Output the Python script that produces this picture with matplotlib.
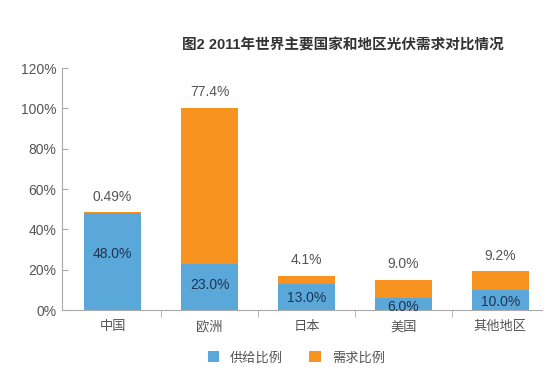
import matplotlib
matplotlib.use('Agg')
import matplotlib.pyplot as plt
import numpy as np

plt.rcParams['font.family'] = ['Liberation Sans', 'Noto Sans CJK SC', 'DejaVu Sans']

regions = ['中国', '欧洲', '日本', '美国', '其他地区']
supply = [48.0, 23.0, 13.0, 6.0, 10.0]
demand = [0.49, 77.4, 4.1, 9.0, 9.2]
supply_labels = ['48.0%', '23.0%', '13.0%', '6.0%', '10.0%']
demand_labels = ['0.49%', '77.4%', '4.1%', '9.0%', '9.2%']

blue = '#5aa7d9'
orange = '#f7931e'
grey = '#555555'

fig = plt.figure(figsize=(5.6, 3.89), dpi=100)
ax = fig.add_axes([0.111, 0.203, 0.857, 0.622])

x = np.arange(len(regions))
w = 0.58
ax.bar(x, supply, w, color=blue, label='供给比例')
ax.bar(x, demand, w, bottom=supply, color=orange, label='需求比例')

for i in range(len(regions)):
    ax.text(x[i], supply[i] * 0.62 - 2, supply_labels[i], ha='center', va='center',
            fontsize=10, color='#1f3550')
    ax.annotate(demand_labels[i], (x[i], supply[i] + demand[i]), xytext=(0, 6),
                textcoords='offset points', ha='center', va='bottom',
                fontsize=10, color=grey)

ax.set_ylim(0, 120)
ax.set_xlim(-0.52, 4.43)
ax.set_yticks(range(0, 121, 20))
ax.set_yticklabels([f'{v}%' for v in range(0, 121, 20)])
ax.set_xticks(x)
ax.set_xticklabels(regions)
ax.set_xticks(x[:-1] + 0.5, minor=True)

for s in ['top', 'right']:
    ax.spines[s].set_visible(False)
for s in ['left', 'bottom']:
    ax.spines[s].set_color('#aaaaaa')
    ax.spines[s].set_linewidth(0.8)

ax.tick_params(axis='y', direction='in', length=4, color='#aaaaaa', labelsize=10,
               labelcolor=grey, pad=4)
ax.tick_params(axis='x', which='major', length=0, labelsize=9.5, labelcolor=grey, pad=8)
ax.tick_params(axis='x', which='minor', length=5, color='#aaaaaa', direction='out')

fig.text(0.612, 0.884, '图2 2011年世界主要国家和地区光伏需求对比情况', ha='center', va='center',
         fontsize=10.5, fontweight='bold', color='#333333')

fig.legend(loc='center', bbox_to_anchor=(0.529, 0.08), ncol=2, frameon=False,
           handlelength=0.9, handleheight=0.9, columnspacing=2.0, handletextpad=0.8,
           prop={'size': 9.5}, labelcolor=grey)

fig.savefig('out.png', dpi=100)
